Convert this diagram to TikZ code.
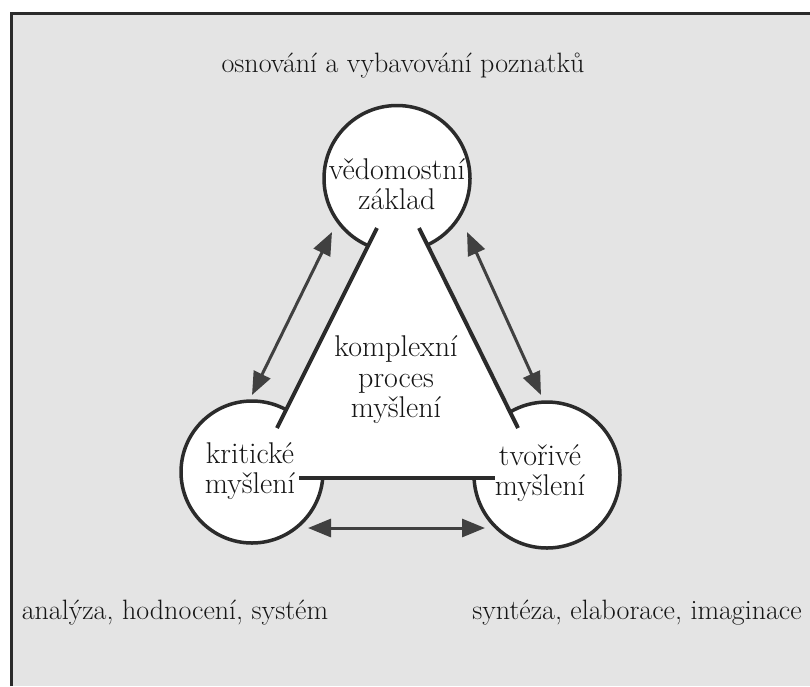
\documentclass[tikz,border=0pt]{standalone}
\usetikzlibrary{arrows.meta}
\definecolor{ink}{HTML}{2B2B2B}
\definecolor{arrowc}{HTML}{404040}
\definecolor{paper}{HTML}{E4E4E4}
\definecolor{textc}{HTML}{151515}
\begin{document}
\begin{tikzpicture}[x=1pt,y=-1pt,
  txt/.style={font=\fontsize{28}{31}\selectfont, text=textc, align=center, inner sep=0pt},
  bigtxt/.style={font=\fontsize{30}{30.5}\selectfont, text=textc, align=center, inner sep=0pt},
  ring/.style={circle, draw=ink, line width=3.5pt, fill=white, inner sep=0pt},
  edgeline/.style={draw=ink, line width=4pt},
  dbl/.style={draw=arrowc, line width=3pt, {Triangle[length=23pt,width=18pt]}-{Triangle[length=23pt,width=18pt]}}]
\useasboundingbox (0,0) rectangle (810,686);
% paper and frame
\fill[paper] (11,13) rectangle (810,686);
\draw[ink, line width=3pt] (11,686) -- (11,13) -- (810,13);
% circles
\node[ring, minimum size=146pt] (vz) at (397,178.5) {};
\node[ring, minimum size=142pt] (km) at (252,472) {};
\node[ring, minimum size=146pt] (tm) at (547,475) {};
% triangle
\coordinate (lt) at (377,228);
\coordinate (lb) at (277,428);
\coordinate (rt) at (419,228);
\coordinate (rb) at (518,428);
\coordinate (bl) at (299,477.5);
\coordinate (br) at (495,477.5);
\fill[white] (lt) -- (rt) -- (543,477) -- (252,477) -- cycle;
\draw[edgeline] (lt) -- (lb);
\draw[edgeline] (rt) -- (rb);
\draw[edgeline] (bl) -- (br);
% arrows
\coordinate (a1) at (332,232);
\coordinate (a2) at (252,395);
\coordinate (b1) at (467,232);
\coordinate (b2) at (541,395);
\coordinate (c1) at (308,528);
\coordinate (c2) at (485,528);
\draw[dbl] (a1) -- (a2);
\draw[dbl] (b1) -- (b2);
\draw[dbl] (c1) -- (c2);
% texts
\node[txt] (t1) at (403,66) {osnování a vybavování poznatků};
\node[bigtxt] (t2) at (397,184) {vědomostní\\základ};
\node[bigtxt] (t3) at (250,471) {kritické\\myšlení};
\node[bigtxt] (t4) at (540,473) {tvořivé\\myšlení};
\node[bigtxt] (t5) at (396,380) {komplexní\\proces\\myšlení};
\node[txt] (t6) at (175,613) {analýza, hodnocení, systém};
\node[txt] (t7) at (637,613) {syntéza, elaborace, imaginace};
\end{tikzpicture}
\end{document}
